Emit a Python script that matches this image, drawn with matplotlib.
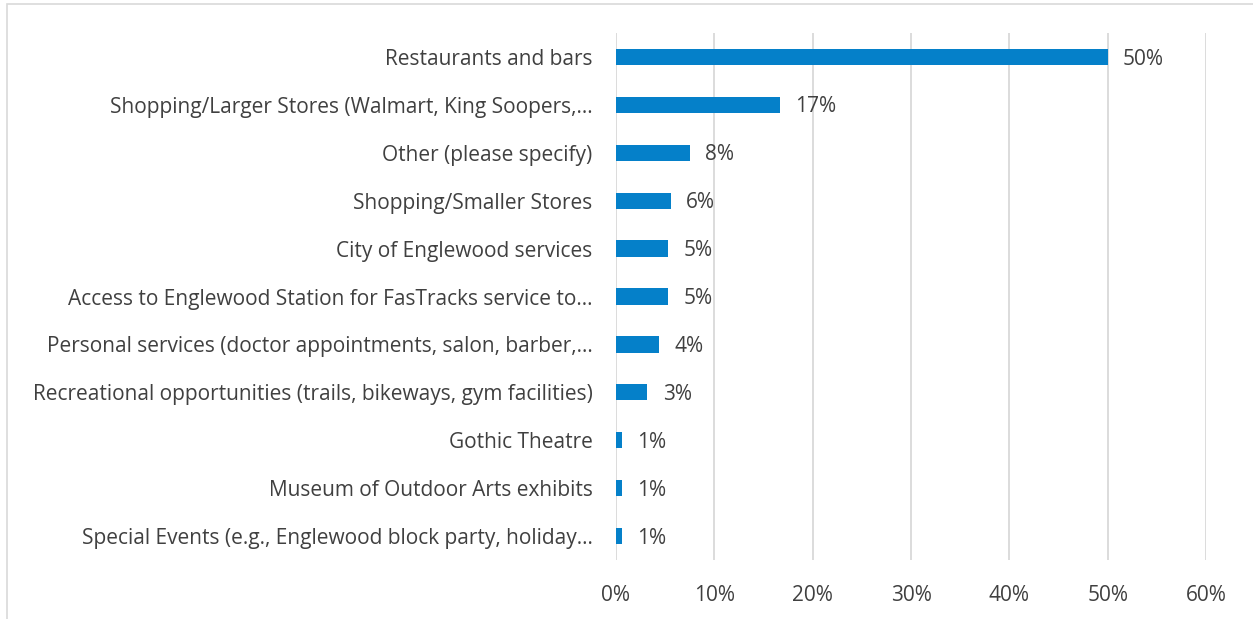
import matplotlib
matplotlib.use("Agg")
import matplotlib.pyplot as plt
import matplotlib.ticker as ticker
from matplotlib.patches import Rectangle

# ---------------------------------------------------------------------------
# Data (top to bottom as shown)
# ---------------------------------------------------------------------------

CATEGORIES = [
    "Restaurants and bars",
    "Shopping/Larger Stores (Walmart, King Soopers,\u2026",
    "Other (please specify)",
    "Shopping/Smaller Stores",
    "City of Englewood services",
    "Access to Englewood Station for FasTracks service to\u2026",
    "Personal services (doctor appointments, salon, barber,\u2026",
    "Recreational opportunities (trails, bikeways, gym facilities)",
    "Gothic Theatre",
    "Museum of Outdoor Arts exhibits",
    "Special Events (e.g., Englewood block party, holiday\u2026",
]
VALUES = [50.0, 16.7, 7.5, 5.6, 5.3, 5.3, 4.4, 3.2, 0.6, 0.6, 0.6]
VALUE_LABELS = ["50%", "17%", "8%", "6%", "5%", "5%", "4%", "3%", "1%", "1%", "1%"]
X_TICKS = [0, 10, 20, 30, 40, 50, 60]

# ---------------------------------------------------------------------------
# Plot
# ---------------------------------------------------------------------------

plt.rcParams["font.family"] = ["Open Sans", "DejaVu Sans"]
TEXT = "#404040"
BAR = "#0580C9"
GRID = "#D9D9D9"
FS = 15

fig = plt.figure(figsize=(12.53, 6.19), dpi=100)
# light chart-area border (left and top visible)
fig.patches.append(Rectangle((7 / 1253, -0.1), 1.2, 1.1 - 4 / 619,
                             transform=fig.transFigure, fill=False,
                             edgecolor=GRID, linewidth=1.2))

ax = fig.add_axes([616 / 1253, 1 - 560 / 619, (1206 - 616) / 1253, (560 - 33) / 619])

ypos = list(range(len(CATEGORIES)))[::-1]
ax.barh(ypos, VALUES, height=0.34, color=BAR, zorder=3)

for y, v, lab in zip(ypos, VALUES, VALUE_LABELS):
    ax.annotate(lab, (v, y), xytext=(11, -1.5), textcoords="offset points",
                va="center", ha="left", fontsize=FS, color=TEXT)

ax.set_xlim(0, 60)
ax.set_ylim(-0.5, len(CATEGORIES) - 0.5)
ax.set_xticks(X_TICKS)
ax.xaxis.set_major_formatter(ticker.FuncFormatter(lambda v, _: f"{int(v)}%"))
ax.set_yticks(ypos)
ax.set_yticklabels(CATEGORIES)

ax.grid(axis="x", color=GRID, linewidth=1.3, zorder=0)
ax.tick_params(axis="both", length=0, colors=TEXT, labelsize=FS)
ax.tick_params(axis="x", pad=18)
ax.tick_params(axis="y", pad=17)
for s in ax.spines.values():
    s.set_visible(False)

fig.savefig("out.png", dpi=100)
